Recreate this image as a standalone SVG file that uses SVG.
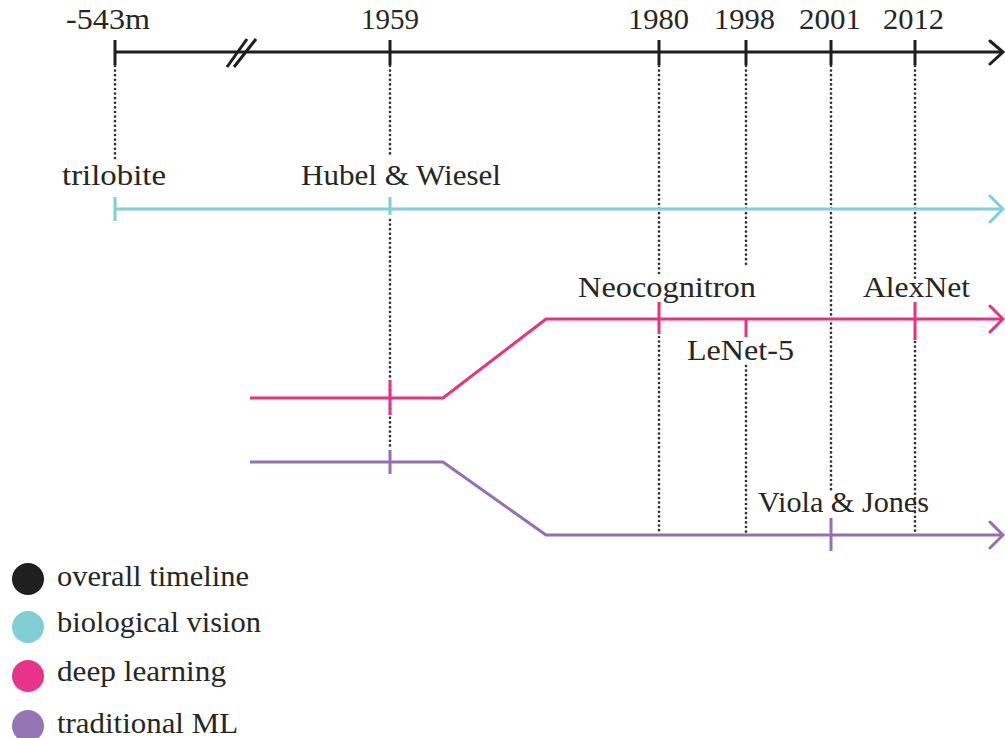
<svg xmlns="http://www.w3.org/2000/svg" width="1005" height="738" viewBox="0 0 1005 738">
  <style>
    .lbl { font-family: "Liberation Serif", "DejaVu Serif", serif; font-size: 30px; fill: #262626; }
    .dot { fill: none; stroke: #333333; stroke-width: 2.7; stroke-dasharray: 0 4.6; stroke-linecap: round; }
    .axis { fill: none; stroke: #1e1e1e; stroke-width: 3; }
    .bio { fill: none; stroke: #7fcfd6; stroke-width: 3; }
    .dl { fill: none; stroke: #e8327f; stroke-width: 3; }
    .ml { fill: none; stroke: #9470b2; stroke-width: 3; }
    .head { fill: none; stroke-width: 3; stroke-linecap: round; stroke-linejoin: miter; }
  </style>
  <rect width="1005" height="738" fill="#ffffff"/>

  <!-- dotted year guides -->
  <g id="guides">
    <line class="dot" x1="115" y1="66" x2="115" y2="158"/>
    <line class="dot" x1="390" y1="66" x2="390" y2="156"/>
    <line class="dot" x1="390" y1="220" x2="390" y2="450"/>
    <line class="dot" x1="659" y1="66" x2="659" y2="275"/>
    <line class="dot" x1="659" y1="337" x2="659" y2="534"/>
    <line class="dot" x1="746" y1="66" x2="746" y2="268"/>
    <line class="dot" x1="746" y1="366" x2="746" y2="534"/>
    <line class="dot" x1="831" y1="66" x2="831" y2="490"/>
    <line class="dot" x1="915" y1="66" x2="915" y2="278"/>
    <line class="dot" x1="915" y1="342" x2="915" y2="534"/>
  </g>

  <!-- overall timeline -->
  <g id="axis">
    <line class="axis" x1="115" y1="52" x2="1003" y2="52"/>
    <path class="head" stroke="#1e1e1e" d="M990,41 L1003,52 L990,64"/>
    <path class="axis" d="M115,40 V65 M390,40 V65 M659,40 V65 M746,40 V65 M831,40 V65 M915,40 V65"/>
    <path class="axis" stroke-width="1.6" d="M227,67 L247,39 M234,67 L256,39"/>
    <text class="lbl" x="66" y="29" textLength="84" lengthAdjust="spacingAndGlyphs">-543m</text>
    <text class="lbl" x="361" y="29" textLength="58" lengthAdjust="spacingAndGlyphs">1959</text>
    <text class="lbl" x="628" y="29" textLength="61" lengthAdjust="spacingAndGlyphs">1980</text>
    <text class="lbl" x="714" y="29" textLength="61" lengthAdjust="spacingAndGlyphs">1998</text>
    <text class="lbl" x="799" y="29" textLength="62" lengthAdjust="spacingAndGlyphs">2001</text>
    <text class="lbl" x="883" y="29" textLength="61" lengthAdjust="spacingAndGlyphs">2012</text>
  </g>

  <!-- biological vision -->
  <g id="biological-vision">
    <line class="bio" x1="115" y1="209" x2="1003" y2="209"/>
    <path class="head" stroke="#7fcfd6" d="M990,196 L1003,209 L990,222"/>
    <path class="bio" d="M115,197 V221 M390,197 V215"/>
    <text class="lbl" x="62" y="185" textLength="104" lengthAdjust="spacingAndGlyphs">trilobite</text>
    <text class="lbl" x="301" y="185" textLength="200" lengthAdjust="spacingAndGlyphs">Hubel &amp; Wiesel</text>
  </g>

  <!-- deep learning -->
  <g id="deep-learning">
    <path class="dl" d="M250,398 H443 L546,319 H1003"/>
    <path class="head" stroke="#e8327f" d="M990,306 L1003,319 L990,332"/>
    <path class="dl" d="M390,380 V415 M659,302 V334 M746,319 V337 M915,302 V340"/>
    <text class="lbl" x="578" y="297" textLength="178" lengthAdjust="spacingAndGlyphs">Neocognitron</text>
    <text class="lbl" x="863" y="297" textLength="107" lengthAdjust="spacingAndGlyphs">AlexNet</text>
    <text class="lbl" x="687" y="360" textLength="107" lengthAdjust="spacingAndGlyphs">LeNet-5</text>
  </g>

  <!-- traditional ML -->
  <g id="traditional-ml">
    <path class="ml" d="M250,462 H443 L546,535 H1003"/>
    <path class="head" stroke="#9470b2" d="M990,522 L1003,535 L990,548"/>
    <path class="ml" d="M390,450 V474 M831,518 V551"/>
    <text class="lbl" x="758" y="512" textLength="171" lengthAdjust="spacingAndGlyphs">Viola &amp; Jones</text>
  </g>

  <!-- legend -->
  <g id="legend">
    <circle cx="28" cy="579" r="16" fill="#1f1f1f"/>
    <circle cx="28" cy="627" r="16" fill="#80cfd6"/>
    <circle cx="28" cy="676" r="16" fill="#e8338a"/>
    <circle cx="28" cy="726" r="16" fill="#9575b5"/>
    <text class="lbl" x="57" y="586" textLength="192" lengthAdjust="spacingAndGlyphs">overall timeline</text>
    <text class="lbl" x="57" y="632" textLength="204" lengthAdjust="spacingAndGlyphs">biological vision</text>
    <text class="lbl" x="57" y="681" textLength="169" lengthAdjust="spacingAndGlyphs">deep learning</text>
    <text class="lbl" x="57" y="733" textLength="181" lengthAdjust="spacingAndGlyphs">traditional ML</text>
  </g>
</svg>
